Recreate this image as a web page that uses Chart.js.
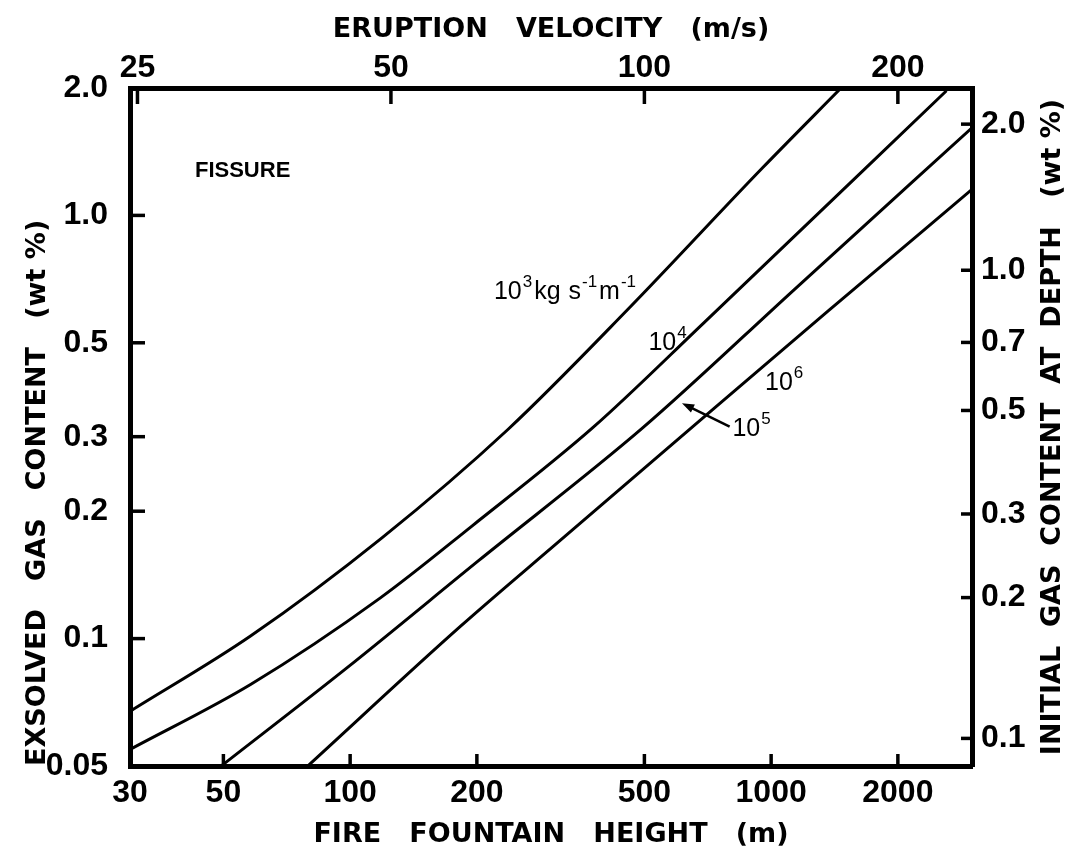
<!DOCTYPE html>
<html lang="en">
<head>
<meta charset="UTF-8">
<title>Fire fountain height vs gas content</title>
<script src="https://cdn.jsdelivr.net/npm/chart.js"></script>
<style>
    body { margin: 0; background: #fff; }
    .wrap { width: 1078px; height: 863px; }
</style>
</head>
<body>
<div class="wrap"><canvas id="fountainChart"></canvas></div>
<script>
// axis ticks
const heightTicks = [30, 50, 100, 200, 500, 1000, 2000];
const gasTicks = [0.05, 0.1, 0.2, 0.3, 0.5, 1.0, 2.0];
const velocityTicks = [25, 50, 100, 200];
// right axis: initial gas at depth, placed against the exsolved gas scale
const depthGasLabels = ['0.1', '0.2', '0.3', '0.5', '0.7', '1.0', '2.0'];
const depthGasAt = [0.0581, 0.125, 0.197, 0.346, 0.501, 0.742, 1.643];

// curves, one per mass eruption rate (kg/s/m)
const height1e3 = [30, 58, 119, 237, 457, 953, 1466];
const gas1e3 = [0.0673, 0.1014, 0.173, 0.312, 0.600, 1.294, 2.0];
const height1e4 = [30, 58, 118, 195, 377, 693, 2609];
const gas1e4 = [0.0547, 0.0779, 0.1248, 0.1847, 0.315, 0.558, 1.97];
const height1e5 = [49.4, 98.4, 201.5, 496, 1135, 3000];
const gas1e5 = [0.05, 0.0854, 0.1526, 0.315, 0.668, 1.611];
const height1e6 = [79.3, 183, 312, 628, 1362, 3000];
const gas1e6 = [0.05, 0.107, 0.169, 0.307, 0.593, 1.152];

const G = 10; // velocity -> fountain height, h = v^2 / 2g (g rounded as on the figure)

const numFont = { family: "'Liberation Sans', Arial, sans-serif", size: 32, weight: 'bold' };
const titleFont = { family: "'DejaVu Sans', sans-serif", size: 27, weight: 'bold' };

function points(xs, ys) {
    return xs.map((x, i) => ({ x: x, y: ys[i] }));
}

function curve(xs, ys) {
    return {
        data: points(xs, ys),
        showLine: true,
        borderColor: '#000',
        borderWidth: 3,
        pointRadius: 0,
        cubicInterpolationMode: 'monotone',
        fill: false
    };
}

function gasLabel(v) {
    return v >= 1 ? v.toFixed(1) : String(v);
}

// small inward tick marks on all four sides
const inwardTicks = {
    id: 'inwardTicks',
    afterDraw(chart) {
        const { ctx, chartArea: a } = chart;
        ctx.save();
        ctx.strokeStyle = '#000';
        ctx.lineWidth = 3.5;
        const sides = [['x', 'bottom', 12], ['xTop', 'top', 16], ['y', 'left', 15], ['yRight', 'right', 11]];
        sides.forEach(([id, side, len]) => {
            const s = chart.scales[id];
            s.ticks.forEach(t => {
                if (t.value <= s.min * 1.001 || t.value >= s.max * 0.999) return;
                const p = s.getPixelForValue(t.value);
                ctx.beginPath();
                if (side === 'bottom') { ctx.moveTo(p, a.bottom); ctx.lineTo(p, a.bottom - len); }
                if (side === 'top') { ctx.moveTo(p, a.top); ctx.lineTo(p, a.top + len); }
                if (side === 'left') { ctx.moveTo(a.left, p); ctx.lineTo(a.left + len, p); }
                if (side === 'right') { ctx.moveTo(a.right, p); ctx.lineTo(a.right - len, p); }
                ctx.stroke();
            });
        });
        ctx.restore();
    }
};

// text labels inside the plot + the right axis title (reads bottom to top)
function drawPower(ctx, x, y, parts) {
    parts.forEach(([txt, sup]) => {
        ctx.font = sup ? "17px 'Liberation Sans', Arial, sans-serif" : "25px 'Liberation Sans', Arial, sans-serif";
        ctx.fillText(txt, x, sup ? y - 12 : y);
        x += ctx.measureText(txt).width + (sup ? 2 : 1);
    });
}

const plotLabels = {
    id: 'plotLabels',
    afterDraw(chart) {
        const { ctx, chartArea: a } = chart;
        const xs = chart.scales.x, ys = chart.scales.y;
        const px = v => xs.getPixelForValue(v);
        const py = v => ys.getPixelForValue(v);
        ctx.save();
        ctx.fillStyle = '#000';
        ctx.textAlign = 'left';
        ctx.textBaseline = 'alphabetic';

        ctx.font = "bold 22px 'Liberation Sans', Arial, sans-serif";
        ctx.fillText('FISSURE', px(42.8), py(1.233));

        drawPower(ctx, px(219.5), py(0.633), [['10', false], ['3', true], ['kg', false], [' s', false], ['-1', true], ['m', false], ['-1', true]]);
        drawPower(ctx, px(511), py(0.482), [['10', false], ['4', true]]);
        drawPower(ctx, px(967), py(0.386), [['10', false], ['6', true]]);
        drawPower(ctx, px(809), py(0.301), [['10', false], ['5', true]]);

        // arrow pointing at the 10^5 curve
        const x0 = px(797), y0 = py(0.317), x1 = px(614), y1 = py(0.360);
        const ang = Math.atan2(y1 - y0, x1 - x0);
        ctx.strokeStyle = '#000';
        ctx.lineWidth = 2.5;
        ctx.beginPath();
        ctx.moveTo(x0, y0);
        ctx.lineTo(x1 - 6 * Math.cos(ang), y1 - 6 * Math.sin(ang));
        ctx.stroke();
        ctx.beginPath();
        ctx.moveTo(x1, y1);
        ctx.lineTo(x1 - 13 * Math.cos(ang - 0.35), y1 - 13 * Math.sin(ang - 0.35));
        ctx.lineTo(x1 - 13 * Math.cos(ang + 0.35), y1 - 13 * Math.sin(ang + 0.35));
        ctx.closePath();
        ctx.fill();

        // right axis title
        ctx.translate(1053, (a.top + a.bottom) / 2);
        ctx.rotate(-Math.PI / 2);
        ctx.textAlign = 'center';
        ctx.textBaseline = 'middle';
        ctx.font = "bold 27px 'DejaVu Sans', sans-serif";
        ctx.fillText('INITIAL  GAS  CONTENT  AT  DEPTH   (wt %)', 0, 0);
        ctx.restore();
    }
};

const ctx = document.getElementById('fountainChart').getContext('2d');
new Chart(ctx, {
    type: 'scatter',
    data: {
        datasets: [
            curve(height1e3, gas1e3),
            curve(height1e4, gas1e4),
            curve(height1e5, gas1e5),
            curve(height1e6, gas1e6)
        ]
    },
    options: {
        responsive: true,
        maintainAspectRatio: false,
        animation: false,
        layout: { padding: 0 },
        plugins: { legend: { display: false }, tooltip: { enabled: false } },
        scales: {
            x: {
                type: 'logarithmic',
                position: 'bottom',
                min: 30,
                max: 3000,
                afterBuildTicks: s => { s.ticks = heightTicks.map(v => ({ value: v })); },
                afterFit: s => { s.height = 97; },
                ticks: { autoSkip: false, maxRotation: 0, padding: 8, color: '#000', font: numFont, callback: v => String(v) },
                grid: { drawOnChartArea: false, drawTicks: false },
                border: { color: '#000', width: 5 },
                title: { display: true, text: 'FIRE   FOUNTAIN   HEIGHT   (m)', color: '#000', font: titleFont, padding: { bottom: 12 } }
            },
            xTop: {
                type: 'logarithmic',
                position: 'top',
                min: 30,
                max: 3000,
                afterBuildTicks: s => { s.ticks = velocityTicks.map(v => ({ value: v * v / (2 * G) })); },
                afterFit: s => { s.height = 88; },
                ticks: { autoSkip: false, maxRotation: 0, padding: 1, color: '#000', font: numFont, callback: (v, i) => String(velocityTicks[i]) },
                grid: { drawOnChartArea: false, drawTicks: false },
                border: { color: '#000', width: 5 },
                title: { display: true, text: 'ERUPTION   VELOCITY   (m/s)', color: '#000', font: titleFont, padding: { top: 14 } }
            },
            y: {
                type: 'logarithmic',
                position: 'left',
                min: 0.05,
                max: 2.0,
                afterBuildTicks: s => { s.ticks = gasTicks.map(v => ({ value: v })); },
                afterFit: s => { s.width = 130; },
                ticks: { autoSkip: false, padding: 22, color: '#000', font: numFont, callback: v => gasLabel(v) },
                grid: { drawOnChartArea: false, drawTicks: false },
                border: { color: '#000', width: 5 },
                title: { display: true, align: 'start', text: 'EXSOLVED   GAS   CONTENT   (wt %)', color: '#000', font: titleFont, padding: { top: 22 } }
            },
            yRight: {
                type: 'logarithmic',
                position: 'right',
                min: 0.05,
                max: 2.0,
                afterBuildTicks: s => { s.ticks = depthGasAt.map(v => ({ value: v })); },
                afterFit: s => { s.width = 106; },
                ticks: { autoSkip: false, padding: 9, color: '#000', font: numFont, callback: (v, i) => depthGasLabels[i] },
                grid: { drawOnChartArea: false, drawTicks: false },
                border: { color: '#000', width: 5 }
            }
        }
    },
    plugins: [inwardTicks, plotLabels]
});
</script>
</body>
</html>
